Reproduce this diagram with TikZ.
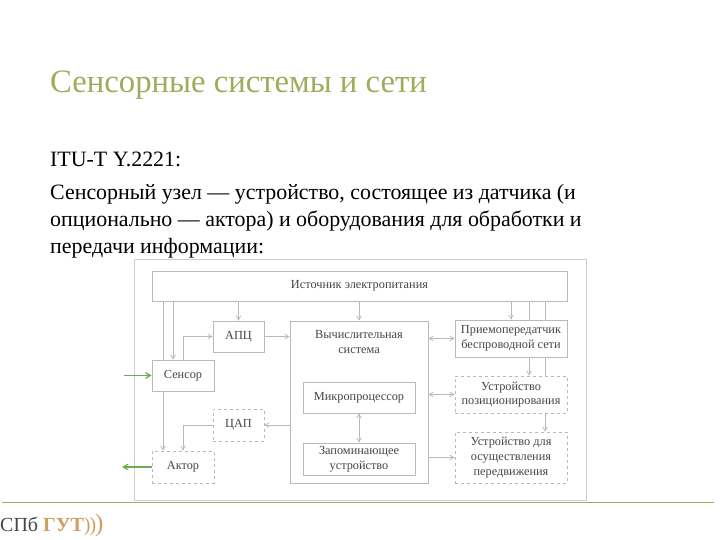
\documentclass[tikz,border=0pt]{standalone}
\usepackage{fontspec}
\setmainfont{Liberation Serif}
\usetikzlibrary{shapes,arrows,positioning}
\definecolor{titlegreen}{RGB}{158,172,92}
\definecolor{boxgray}{RGB}{185,185,185}
\definecolor{labelgray}{RGB}{70,70,70}
\definecolor{arrowgreen}{RGB}{110,170,80}
\definecolor{logotan}{RGB}{205,160,95}
\begin{document}
\begin{tikzpicture}[
    x=1pt, y=-1pt, >=angle 60,
    block/.style={draw=boxgray, fill=white, line width=0.8pt, inner sep=0pt, align=center, text=labelgray, font=\fontsize{12.3}{14.7}\selectfont},
    optblock/.style={block, dashed},
    slide/.style={inner sep=0pt, anchor=west, text=black},
    arrow/.style={->, boxgray, line width=0.8pt},
    bothways/.style={<->, boxgray, line width=0.8pt},
    plain/.style={boxgray, line width=1pt},
    signal/.style={->, arrowgreen, line width=1.2pt}
]
\useasboundingbox (0,0) rectangle (720,540);

% slide text
\node[slide, text=titlegreen, font=\fontsize{32.7}{36}\selectfont] (title) at (50,85) {Сенсорные системы и сети};
\node[slide, font=\fontsize{21.9}{26}\selectfont] (standard) at (50,159) {ITU-T Y.2221:};
\node[slide, font=\fontsize{21.9}{27}\selectfont, align=left, anchor=north west] (definition) at (50,184)
    {Сенсорный узел — устройство, состоящее из датчика (и\\опционально — актора) и оборудования для обработки и\\передачи информации:};

% frame and footer
\node[draw=boxgray!70, minimum width=452pt, minimum height=241pt, inner sep=0pt] (frame) at (360,379.5) {};
\coordinate (ruleL) at (2,502);
\coordinate (ruleR) at (714,502);
\draw[titlegreen, line width=0.8pt] (ruleL) -- (ruleR);
\node[slide, font=\fontsize{20}{24}\selectfont] (logo) at (0,525)
    {\textcolor{labelgray}{СПб} \textcolor{logotan}{\textbf{ГУТ}}\textcolor{logotan}{)\kern-1pt)\kern-1pt{\fontsize{25}{25}\selectfont)}}};

% blocks
\node[block, minimum width=415pt, minimum height=30pt] (power) at (359.5,286) {Источник электропитания};
\node[block, minimum width=51pt, minimum height=31pt] (adc) at (238.5,336.5) {АПЦ};
\node[block, minimum width=62pt, minimum height=31pt] (sensor) at (183,375.5) {Сенсор};
\node[optblock, minimum width=51pt, minimum height=32pt] (dac) at (238.5,425) {ЦАП};
\node[optblock, minimum width=62pt, minimum height=32pt] (actor) at (183,467) {Актор};
\node[block, minimum width=138pt, minimum height=162pt] (computer) at (359,402) {};
\node[block, anchor=north] (computerlabel) at (359,330) [draw=none, fill=none] {Вычислительная\\система};
\node[block, minimum width=112pt, minimum height=31pt] (cpu) at (359,397.5) {Микропроцессор};
\node[block, minimum width=112pt, minimum height=32pt] (memory) at (359,459) {Запоминающее\\устройство};
\node[block, minimum width=112pt, minimum height=37pt] (radio) at (511,338.5) {Приемопередатчик\\беспроводной сети};
\node[optblock, minimum width=112pt, minimum height=37pt] (locator) at (511,394.5) {Устройство\\позиционирования};
\node[optblock, minimum width=112pt, minimum height=51pt] (mover) at (511,457.5) {Устройство для\\осуществления\\передвижения};

% free ends of the green signals
\coordinate (signalin) at (124,375.5);
\coordinate (signalout) at (122,467);
\draw[signal] (signalin) -- (sensor);
\draw[signal] (actor) -- (signalout);

% power lines
\draw[plain] ([xshift=-20pt]sensor.north |- power.south) -- ([xshift=-20pt]sensor.north);
\draw[arrow] ([xshift=-20pt]sensor.south) -- ([xshift=-20pt]actor.north);
\draw[arrow] ([xshift=-10pt]sensor.north |- power.south) -- ([xshift=-10pt]sensor.north);
\draw[arrow] (adc.north |- power.south) -- (adc);
\draw[arrow] (computer.north |- power.south) -- (computer);
\draw[arrow] (radio.north |- power.south) -- (radio);
\draw[plain] ([xshift=18pt]radio.north |- power.south) -- ([xshift=18pt]radio.north);
\draw[plain] ([xshift=34pt]radio.north |- power.south) -- ([xshift=34pt]radio.north);
\draw[arrow] ([xshift=18pt]radio.south) -- ([xshift=18pt]locator.north);
\draw[plain] ([xshift=34pt]radio.south) -- ([xshift=34pt]locator.north);
\draw[arrow] ([xshift=34pt]locator.south) -- ([xshift=34pt]mover.north);

% data lines
\draw[arrow] (sensor.north) |- (adc);
\draw[arrow] (adc) -- (adc -| computer.west);
\draw[arrow] (dac -| computer.west) -- (dac);
\draw[arrow] (dac) -| (actor.north);
\draw[bothways] (cpu) -- (memory);
\draw[bothways] (radio -| computer.east) -- (radio);
\draw[bothways] (locator -| computer.east) -- (locator);
\draw[arrow] (mover -| computer.east) -- (mover);
\end{tikzpicture}
\end{document}
